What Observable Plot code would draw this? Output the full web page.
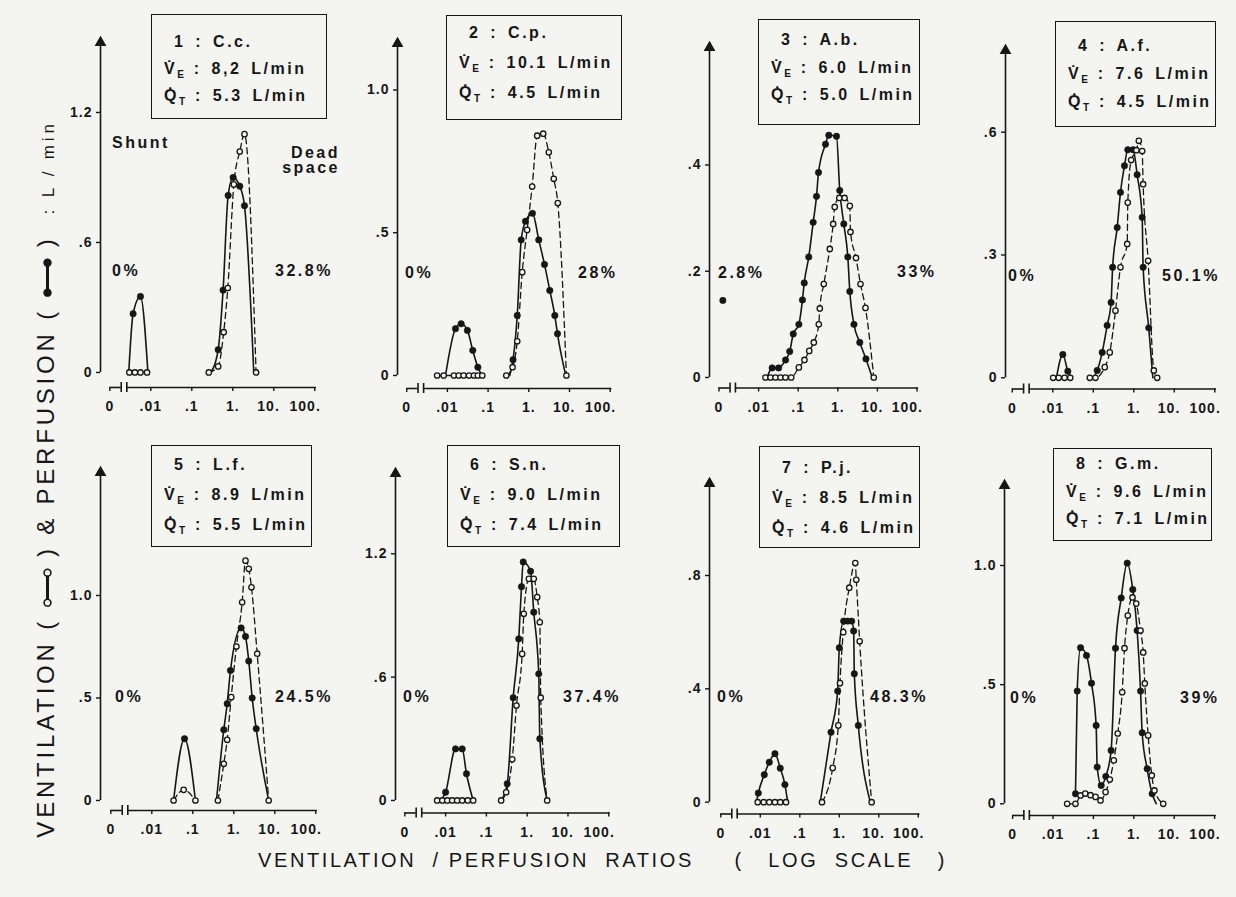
<!DOCTYPE html>
<html><head><meta charset="utf-8">
<script src="https://cdn.jsdelivr.net/npm/d3@7"></script>
<script src="https://cdn.jsdelivr.net/npm/@observablehq/plot@0.6"></script>
<style>
body{margin:0;background:#f4f4f1;}
#root{position:relative;width:1236px;height:897px;overflow:hidden;font-family:"Liberation Sans",Arial,Helvetica,sans-serif;color:#161616;}
.box{position:absolute;border:1.6px solid #161616;box-sizing:border-box;font-weight:bold;font-size:16px;letter-spacing:2.5px;word-spacing:3px;padding-left:12px;white-space:nowrap;}
.box .l1{padding-left:10px}
.box sub{font-size:10px;vertical-align:-4px;letter-spacing:0;line-height:0}
.lab{position:absolute;font-weight:bold;font-size:16px;letter-spacing:2.5px;line-height:20px;white-space:nowrap;}
.ytitle{position:absolute;left:47px;top:479px;transform:translate(-50%,-50%) rotate(-90deg);white-space:pre;font-size:24px;letter-spacing:3.8px;line-height:28px;}
.ytitle svg{vertical-align:middle}
.xtitle{position:absolute;left:258px;top:849px;white-space:pre;font-size:20px;letter-spacing:2.6px;line-height:22px;}
</style></head><body><div id="root"></div>
<script>
const INK = "#161616";
const BG = "#f4f4f1";

// shared x ticks (V/Q ratio, log scale; "0" is the broken-axis position)
const xTickVals = [0.001, 0.01, 0.1, 1, 10, 100];
const xTickLabels = ["0", ".01", ".1", "1.", "10.", "100."];

// panel headers
const subjects = ["1 : C.c.", "2 : C.p.", "3 : A.b.", "4 : A.f.", "5 : L.f.", "6 : S.n.", "7 : P.j.", "8 : G.m."];
const ventTotals = ["8,2", "10.1", "6.0", "7.6", "8.9", "9.0", "8.5", "9.6"];
const perfTotals = ["5.3", "4.5", "5.0", "4.5", "5.5", "7.4", "4.6", "7.1"];
const shuntPct = ["0%", "0%", "2.8%", "0%", "0%", "0%", "0%", "0%"];
const deadPct = ["32.8%", "28%", "33%", "50.1%", "24.5%", "37.4%", "48.3%", "39%"];

// y ticks (L/min)
const yTickVals = [[0,0.6,1.2],[0,0.5,1.0],[0,0.2,0.4],[0,0.3,0.6],[0,0.5,1.0],[0,0.6,1.2],[0,0.4,0.8],[0,0.5,1.0]];
const yTickLabels = [["0",".6","1.2"],["0",".5","1.0"],["0",".2",".4"],["0",".3",".6"],["0",".5","1.0"],["0",".6","1.2"],["0",".4",".8"],["0",".5","1.0"]];

// ---- data: [V/Q ratio, L/min] ; Q = perfusion (filled), V = ventilation (open)
const p1Qlow  = [[0.0029,0],[0.0037,0.271],[0.0056,0.351],[0.0085,0]];
const p1Qmain = [[0.29,0],[0.44,0.105],[0.58,0.38],[0.77,0.817],[1.02,0.90],[1.48,0.86],[1.93,0.77],[3.25,0]];
const p1Vlow  = [[0.0030,0],[0.0041,0],[0.0056,0],[0.0081,0]];
const p1Vmain = [[0.26,0],[0.44,0.028],[0.60,0.186],[0.755,0.39],[1.06,0.868],[1.48,1.02],[1.93,1.10],[3.7,0]];

const p2Qlow  = [[0.0090,0],[0.0158,0.164],[0.0218,0.181],[0.031,0.158],[0.042,0.088],[0.056,0.029],[0.072,0]];
const p2Qmain = [[0.34,0],[0.41,0.055],[0.52,0.21],[0.65,0.475],[0.83,0.54],[1.23,0.568],[1.76,0.475],[2.43,0.389],[3.28,0.298],[4.36,0.21],[5.07,0.146],[8.1,0]];
const p2Vlow  = [[0.0056,0],[0.0081,0],[0.0145,0],[0.019,0],[0.025,0],[0.034,0],[0.045,0],[0.056,0],[0.072,0]];
const p2Vmain = [[0.28,0],[0.40,0.029],[0.52,0.12],[0.69,0.362],[0.91,0.51],[1.21,0.662],[1.61,0.84],[2.26,0.847],[3.10,0.782],[4.11,0.689],[5.16,0.604],[8.4,0]];

const p3Qshunt = [[0.00125,0.145]];
const p3Qmain = [[0.0165,0],[0.022,0.018],[0.032,0.018],[0.048,0.033],[0.061,0.049],[0.075,0.082],[0.104,0.10],[0.128,0.146],[0.142,0.178],[0.185,0.227],[0.239,0.292],[0.29,0.341],[0.326,0.386],[0.489,0.439],[0.593,0.456],[0.927,0.454],[1.12,0.352],[1.42,0.289],[1.79,0.227],[2.01,0.162],[2.56,0.10],[3.59,0.066],[5.15,0.035],[7.4,0]];
const p3Vmain = [[0.0149,0],[0.020,0],[0.0267,0],[0.0357,0],[0.0478,0],[0.0665,0],[0.104,0.019],[0.144,0.033],[0.19,0.05],[0.248,0.066],[0.331,0.10],[0.351,0.13],[0.443,0.176],[0.628,0.242],[0.765,0.289],[0.836,0.321],[1.09,0.338],[1.48,0.338],[2.01,0.323],[2.09,0.274],[2.88,0.225],[3.74,0.176],[5.0,0.131],[8.1,0]];

const p4Qlow  = [[0.0123,0],[0.0177,0.057],[0.0235,0.016],[0.030,0]];
const p4Qmain = [[0.10,0],[0.125,0.018],[0.166,0.062],[0.22,0.128],[0.275,0.184],[0.30,0.27],[0.389,0.367],[0.469,0.453],[0.589,0.518],[0.711,0.557],[0.964,0.557],[1.21,0.496],[1.61,0.392],[1.70,0.27],[2.34,0.122],[2.95,0]];
const p4Vlow  = [[0.0102,0],[0.014,0],[0.0195,0],[0.027,0]];
const p4Vmain = [[0.082,0],[0.113,0],[0.192,0.026],[0.255,0.062],[0.353,0.164],[0.469,0.27],[0.687,0.327],[0.711,0.428],[0.86,0.532],[1.16,0.556],[1.33,0.579],[1.61,0.554],[1.70,0.473],[2.26,0.286],[3.12,0.018],[3.78,0]];

const p5Qlow  = [[0.034,0],[0.0628,0.301],[0.116,0]];
const p5Qmain = [[0.378,0],[0.57,0.345],[0.69,0.472],[0.83,0.634],[1.51,0.842],[1.93,0.80],[2.32,0.68],[2.81,0.50],[3.52,0.35],[7.1,0]];
const p5Vlow  = [[0.034,0],[0.060,0.052],[0.116,0]];
const p5Vmain = [[0.41,0],[0.57,0.179],[0.69,0.296],[0.865,0.504],[1.16,0.751],[1.60,0.967],[1.93,1.17],[2.32,1.13],[2.7,1.04],[3.72,0.716],[7.1,0]];

const p6Qlow  = [[0.0075,0],[0.010,0.04],[0.0175,0.251],[0.0255,0.251],[0.0325,0.13],[0.0475,0]];
const p6Qmain = [[0.23,0],[0.324,0.081],[0.454,0.50],[0.622,0.786],[0.725,1.04],[0.80,1.16],[1.21,1.115],[1.45,0.916],[1.92,0.616],[2.04,0.30],[3.09,0]];
const p6Vlow  = [[0.0062,0],[0.0083,0],[0.011,0],[0.0145,0],[0.0192,0],[0.0255,0],[0.035,0],[0.0475,0]];
const p6Vmain = [[0.23,0],[0.305,0.04],[0.43,0.20],[0.547,0.462],[0.753,0.713],[0.826,0.908],[1.10,1.078],[1.45,1.078],[1.76,0.989],[2.04,0.867],[2.15,0.50],[3.09,0]];

const p7Qlow  = [[0.0080,0],[0.0089,0.032],[0.0126,0.097],[0.0169,0.141],[0.0235,0.171],[0.032,0.12],[0.042,0.062],[0.0494,0]];
const p7Qmain = [[0.33,0],[0.617,0.247],[0.91,0.392],[1.0,0.545],[1.29,0.639],[1.63,0.639],[2.06,0.639],[2.31,0.604],[2.40,0.453],[3.03,0.271],[6.1,0]];
const p7Vlow  = [[0.0086,0],[0.0122,0],[0.0169,0],[0.0235,0],[0.032,0],[0.0448,0]];
const p7Vmain = [[0.365,0],[0.68,0.121],[0.944,0.271],[1.04,0.42],[1.26,0.60],[1.79,0.757],[2.54,0.844],[2.69,0.785],[3.28,0.568],[6.6,0]];

const p8Qmain = [[0.036,0.042],[0.0397,0.473],[0.048,0.655],[0.0675,0.622],[0.0897,0.506],[0.117,0.329],[0.124,0.154],[0.156,0.077],[0.203,0.115],[0.275,0.224],[0.352,0.653],[0.488,0.864],[0.687,1.01],[0.944,0.899],[1.21,0.727],[1.47,0.473],[1.61,0.298],[2.14,0.147],[2.85,0.042],[3.6,0]];
const p8Vmain = [[0.0224,0],[0.036,0],[0.048,0.035],[0.063,0.043],[0.0848,0.036],[0.113,0.029],[0.15,0.014],[0.20,0.049],[0.255,0.102],[0.32,0.182],[0.40,0.295],[0.516,0.468],[0.589,0.653],[0.71,0.79],[0.93,0.866],[1.15,0.84],[1.47,0.727],[1.71,0.635],[1.87,0.505],[2.27,0.287],[2.79,0.119],[3.25,0.056],[5.35,0]];

const perfusion   = [[p1Qlow,p1Qmain],[p2Qlow,p2Qmain],[p3Qmain],[p4Qlow,p4Qmain],[p5Qlow,p5Qmain],[p6Qlow,p6Qmain],[p7Qlow,p7Qmain],[p8Qmain]];
const ventilation = [[p1Vlow,p1Vmain],[p2Vlow,p2Vmain],[p3Vmain],[p4Vlow,p4Vmain],[p5Vlow,p5Vmain],[p6Vlow,p6Vmain],[p7Vlow,p7Vmain],[p8Vmain]];
const shuntDots   = [[],[],p3Qshunt,[],[],[],[],[]];

// ---- page layout (pixels): box = [left, top, width, height, paddingTop, lineHeight]
const layout = [
 {left:100,  one:232.3,  dec:41,   y0:372,   tv:1.2, tp:112,   arrow:42,  axis:387,   box:[151,14,176,105,13,27],   sh:[112,271],  ds:[275,271]},
 {left:397,  one:528.3,  dec:40.7, y0:375,   tv:1.0, tp:89.5,  arrow:43,  axis:388,   box:[446,15,176,105,2,30],    sh:[405,273],  ds:[578,273]},
 {left:709,  one:837.3,  dec:39.6, y0:377,   tv:0.4, tp:164.5, arrow:47,  axis:387.5, box:[758,19,162,106,6,27.5],  sh:[718,273],  ds:[897,272]},
 {left:1005, one:1133.3, dec:40.5, y0:377.3, tv:0.6, tp:131.7, arrow:50,  axis:388.5, box:[1055,21,161,106,10,28],  sh:[1008,276], ds:[1162,276]},
 {left:100,  one:233.3,  dec:41,   y0:800,   tv:1.0, tp:595,   arrow:472, axis:810,   box:[151,445,161,102,4,30],   sh:[115,697],  ds:[275,697]},
 {left:395,  one:526.7,  dec:40.8, y0:800,   tv:1.2, tp:553.3, arrow:473, axis:812.5, box:[447,445,173,102,4,30],   sh:[403,697],  ds:[563,697]},
 {left:708.5,one:838.3,  dec:39.5, y0:801.7, tv:0.8, tp:575,   arrow:483, axis:813.5, box:[759,446,161,102,6,30],   sh:[717,697],  ds:[870,697]},
 {left:1004, one:1133.3, dec:40.4, y0:803.3, tv:1.0, tp:565,   arrow:485, axis:815,   box:[1053,448,159,93,1,27.5], sh:[1010,698], ds:[1180,698]}
];

const root = document.getElementById("root");

function addDiv(cls, html, css) {
  const d = document.createElement("div");
  d.className = cls; d.innerHTML = html;
  Object.assign(d.style, css);
  root.appendChild(d);
  return d;
}

function drawPanel(i) {
  const L = layout[i];
  const ppu = (L.y0 - L.tp) / L.tv;
  const yLow = -(L.axis - L.y0) / ppu;
  const yHigh = (L.y0 - L.arrow) / ppu;
  const xmin = Math.pow(10, -(L.one - L.left) / L.dec);
  const endDec = 2.15;
  const xmax = Math.pow(10, endDec);
  const frameW = L.one + endDec * L.dec - L.left;
  const mL = 44, mR = 44, mT = 10, mB = 38;
  const Q = perfusion[i].flatMap((seg, s) => seg.map(([vq, val]) => ({vq, val, s})));
  const V = ventilation[i].flatMap((seg, s) => seg.map(([vq, val]) => ({vq, val, s})));
  const S = shuntDots[i].map(([vq, val]) => ({vq, val}));
  const bar = 5 / ppu;
  const tv = yTickVals[i], tl = yTickLabels[i];
  const svg = Plot.plot({
    width: mL + frameW + mR,
    height: mT + (L.axis - L.arrow) + mB,
    marginLeft: mL, marginRight: mR, marginTop: mT, marginBottom: mB,
    style: {background: "transparent", overflow: "visible", maxWidth: "none",
            fontFamily: "'Liberation Sans', Arial, Helvetica, sans-serif",
            fontSize: "14px", fontWeight: "bold", letterSpacing: "1px", color: INK},
    x: {type: "log", domain: [xmin, xmax], axis: null},
    y: {domain: [yLow, yHigh], label: null},
    marks: [
      // y axis with arrow
      Plot.ruleX([xmin], {y1: 0, y2: yHigh, stroke: INK, strokeWidth: 1.6}),
      Plot.dot([xmin], {x: d => d, y: yHigh, symbol: "triangle", r: 3.4, fill: INK, stroke: INK}),
      Plot.axisY({ticks: tv, tickFormat: d => tl[tv.indexOf(d)], tickSize: 4, tickPadding: 4, strokeWidth: 1.4, label: null}),
      // broken x axis
      Plot.ruleY([yLow], {x1: xTickVals[0], x2: 0.0019, stroke: INK, strokeWidth: 1.6}),
      Plot.ruleY([yLow], {x1: 0.0026, x2: 110, stroke: INK, strokeWidth: 1.6}),
      Plot.ruleX([0.0019, 0.0026], {y1: yLow - bar, y2: yLow + bar, stroke: INK, strokeWidth: 1.6}),
      Plot.ruleX(xTickVals, {y1: yLow, y2: yLow - 4 / ppu, stroke: INK, strokeWidth: 1.4}),
      Plot.text(xTickVals.slice(0, 4), {x: d => d, text: d => xTickLabels[xTickVals.indexOf(d)], frameAnchor: "bottom", dy: 24, fill: INK}),
      Plot.text(xTickVals.slice(4), {x: d => d, text: d => xTickLabels[xTickVals.indexOf(d)], frameAnchor: "bottom", dy: 24, dx: 6, textAnchor: "end", fill: INK}),
      // distributions
      Plot.line(Q, {x: "vq", y: "val", z: "s", curve: "monotone-x", stroke: INK, strokeWidth: 1.6}),
      Plot.line(V, {x: "vq", y: "val", z: "s", curve: "monotone-x", stroke: INK, strokeWidth: 1.3, strokeDasharray: "6,4"}),
      Plot.dot(Q.filter(d => d.val > 0), {x: "vq", y: "val", r: 3.2, fill: INK, stroke: INK, strokeWidth: 0.6}),
      Plot.dot(S, {x: "vq", y: "val", r: 3.4, fill: INK}),
      Plot.dot(V, {x: "vq", y: "val", r: 2.7, fill: BG, stroke: INK, strokeWidth: 1.3})
    ]
  });
  svg.style.position = "absolute";
  svg.style.left = (L.left - mL) + "px";
  svg.style.top = (L.arrow - mT) + "px";
  root.appendChild(svg);

  const [bx, by, bw, bh, pt, lh] = L.box;
  addDiv("box",
    `<div class="l1">${subjects[i]}</div>` +
    `<div>V&#x307;<sub>E</sub> : ${ventTotals[i]} L/min</div>` +
    `<div>Q&#x307;<sub>T</sub> : ${perfTotals[i]} L/min</div>`,
    {left: bx + "px", top: by + "px", width: bw + "px", height: bh + "px", paddingTop: pt + "px", lineHeight: lh + "px"});
  addDiv("lab", shuntPct[i], {left: L.sh[0] + "px", top: (L.sh[1] - 10) + "px"});
  addDiv("lab", deadPct[i], {left: L.ds[0] + "px", top: (L.ds[1] - 10) + "px"});
}

for (let i = 0; i < 8; i++) drawPanel(i);

addDiv("lab", "Shunt", {left: "112px", top: "133px"});
addDiv("lab", "Dead<br>space", {left: "268px", top: "145px", width: "72px", textAlign: "right", lineHeight: "15px"});

const glyph = filled => `<svg width="40" height="14" viewBox="0 0 40 14"><line x1="6" y1="7" x2="34" y2="7" stroke="${INK}" stroke-width="3"/>` +
  `<circle cx="5" cy="7" r="3.4" fill="${filled ? INK : BG}" stroke="${INK}" stroke-width="1.6"/>` +
  `<circle cx="35" cy="7" r="3.4" fill="${filled ? INK : BG}" stroke="${INK}" stroke-width="1.6"/></svg>`;

addDiv("ytitle", `VENTILATION ( ${glyph(false)} ) &amp; PERFUSION ( ${glyph(true)} )  <span style="font-size:17px">: L / min</span>`, {});
addDiv("xtitle", "VENTILATION  / PERFUSION  RATIOS     (   LOG  SCALE   )", {});
</script></body></html>
